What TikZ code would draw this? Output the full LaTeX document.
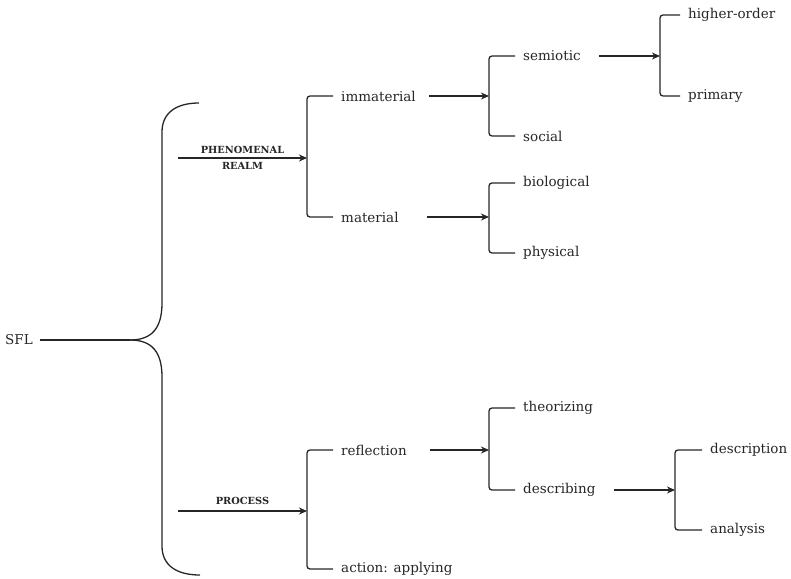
\documentclass[tikz,border=0pt]{standalone}
\usepackage{fontspec}
\setmainfont{DejaVu Serif}
\usepackage{tikz}
\usetikzlibrary{arrows.meta,positioning}
\definecolor{sflInk}{HTML}{262626}
\tikzset{
  sflterm/.style={anchor=west,inner xsep=8pt,inner ysep=2pt,text=sflInk,font=\fontsize{13.5}{15}\selectfont},
  sflbrack/.style={draw=sflInk,line width=1.3pt,rounded corners=3pt},
  sflflow/.style={-{Stealth[length=8pt,width=7pt,inset=2.5pt]},draw=sflInk,line width=1.3pt},
  sfllbl/.style={font=\bfseries\fontsize{9.8}{11}\selectfont,text=sflInk,inner sep=1.5pt},
}

\begin{document}
\begin{tikzpicture}[x=1pt,y=-1pt]
  \useasboundingbox (0,0) rectangle (791,578);

  \node[sflterm,anchor=east,inner xsep=7pt] (sfl) at (40,340) {SFL};
  \coordinate (tip) at (130,340);
  \draw[sflbrack] (sfl.east) -- (tip);
  \draw[sflbrack] (tip) .. controls (152,340) and (162,328) .. (162,300) -- (162,135)
    .. controls (162,113) and (176,103) .. (199,103);
  \draw[sflbrack] (tip) .. controls (152,340) and (162,352) .. (162,380) -- (162,543)
    .. controls (162,565) and (176,575) .. (200,575);

  % phenomenal realm
  \coordinate (phenstart) at (178,158);
  \coordinate (jphen) at (307,158);
  \node[sflterm] (immaterial) at (333,96) {immaterial};
  \node[sflterm] (material) at (333,217) {material};
  \draw[sflflow] (phenstart) -- node[sfllbl,above=2.5pt]{PHENOMENAL} node[sfllbl,below=2.5pt]{REALM} (jphen);
  \draw[sflbrack] (immaterial.west) -| (jphen) |- (material.west);

  \coordinate (jimm) at (489,96);
  \node[sflterm] (semiotic) at (515,56) {semiotic};
  \node[sflterm] (social) at (515,136) {social};
  \draw[sflflow,shorten <=5pt] (immaterial.east) -- (jimm);
  \draw[sflbrack] (semiotic.west) -| (jimm) |- (social.west);

  \coordinate (jsem) at (660,56);
  \node[sflterm] (higherorder) at (680,15) {higher-order};
  \node[sflterm] (primary) at (680,96) {primary};
  \draw[sflflow,shorten <=10pt] (semiotic.east) -- (jsem);
  \draw[sflbrack] (higherorder.west) -| (jsem) |- (primary.west);

  \coordinate (jmat) at (489,217);
  \node[sflterm] (biological) at (515,183) {biological};
  \node[sflterm] (physical) at (515,253) {physical};
  \draw[sflflow,shorten <=20pt] (material.east) -- (jmat);
  \draw[sflbrack] (biological.west) -| (jmat) |- (physical.west);

  % process
  \coordinate (procstart) at (178,511);
  \coordinate (jproc) at (307,511);
  \node[sflterm] (reflection) at (333,450) {reflection};
  \node[sflterm] (applying) at (333,569) {action: applying};
  \draw[sflflow] (procstart) -- node[sfllbl,above=4pt]{PROCESS} (jproc);
  \draw[sflbrack] (reflection.west) -| (jproc) |- (applying.west);

  \coordinate (jrefl) at (489,450);
  \node[sflterm] (theorizing) at (515,408) {theorizing};
  \node[sflterm] (describing) at (515,490) {describing};
  \draw[sflflow,shorten <=15pt] (reflection.east) -- (jrefl);
  \draw[sflbrack] (theorizing.west) -| (jrefl) |- (describing.west);

  \coordinate (jdesc) at (675,490);
  \node[sflterm] (description) at (702,450) {description};
  \node[sflterm] (analysis) at (702,530) {analysis};
  \draw[sflflow,shorten <=10pt] (describing.east) -- (jdesc);
  \draw[sflbrack] (description.west) -| (jdesc) |- (analysis.west);
\end{tikzpicture}
\end{document}
